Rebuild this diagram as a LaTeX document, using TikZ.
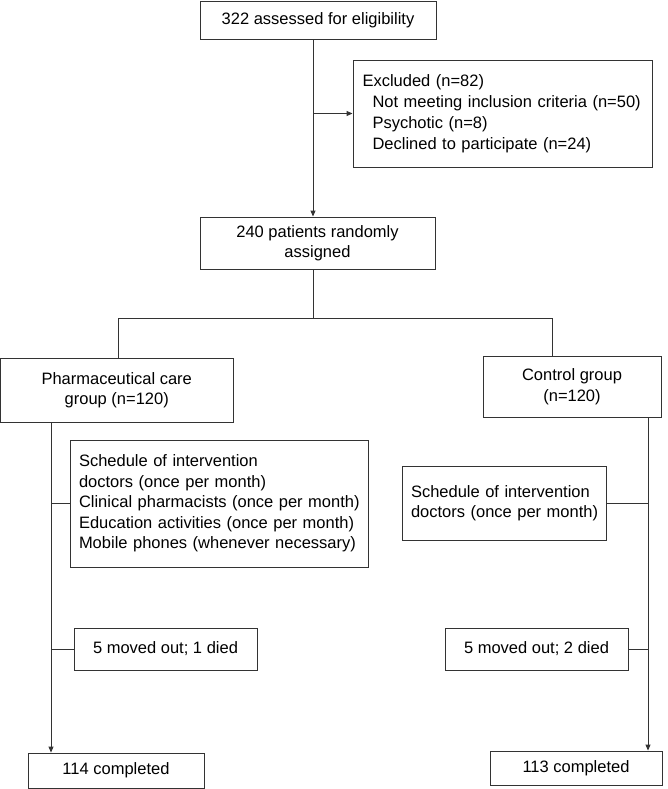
\documentclass[tikz,border=0pt]{standalone}
\usepackage{fontspec}
\setmainfont{Liberation Sans}
\usetikzlibrary{arrows.meta}
\begin{document}
\begin{tikzpicture}[x=1pt,y=-1pt,
  every node/.style={font=\fontsize{16.5}{20.5}\selectfont},
  box/.style={draw=black!80, line width=0.9pt, rectangle, inner sep=0pt, align=center},
  lbox/.style={box, align=left},
  conn/.style={draw=black!80, line width=0.9pt},
  arr/.style={conn, -{Triangle[length=6pt,width=5pt]}}]
\useasboundingbox (0,0) rectangle (667,789);
\coordinate (lx) at (51,0);
\coordinate (rx) at (648,0);
\node[box, minimum width=236pt, minimum height=38pt] (a) at (318,20) {322 assessed for eligibility};
\node[lbox, minimum width=299pt, minimum height=107pt, text width=280pt, font=\fontsize{16.5}{21}\selectfont] (excl) at (502.5,113.5)
  {\mbox{Excluded (n=82)}\\ \mbox{\hspace*{10pt}Not meeting inclusion criteria (n=50)}\\ \mbox{\hspace*{10pt}Psychotic (n=8)}\\ \mbox{\hspace*{10pt}Declined to participate (n=24)}};
\node[box, minimum width=235pt, minimum height=52pt] (b) at (317.5,243) {240 patients randomly\\assigned};
\node[box, minimum width=232.5pt, minimum height=64pt] (pharm) at (116.75,390) {Pharmaceutical care\\group (n=120)};
\node[box, minimum width=178pt, minimum height=61pt] (ctrl) at (572,386.5) {Control group\\(n=120)};
\node[lbox, minimum width=298pt, minimum height=127pt, text width=280pt] (schL) at (219,503.5)
  {\mbox{Schedule of intervention}\\\mbox{doctors (once per month)}\\\mbox{Clinical pharmacists (once per month)}\\\mbox{Education activities (once per month)}\\\mbox{Mobile phones (whenever necessary)}};
\node[lbox, minimum width=204pt, minimum height=74pt, text width=186pt] (schR) at (504,503)
  {\mbox{Schedule of intervention}\\\mbox{doctors (once per month)}};
\node[box, minimum width=183pt, minimum height=42pt] (mvL) at (165.5,649) {5 moved out; 1 died};
\node[box, minimum width=183pt, minimum height=42pt] (mvR) at (536.5,649) {5 moved out; 2 died};
\node[box, minimum width=176pt, minimum height=35pt] (c114) at (116,770.5) {114 completed};
\node[box, minimum width=172pt, minimum height=34pt] (c113) at (576,768) {113 completed};
\draw[arr] ([xshift=-5pt]a.south) -- ([xshift=-4.5pt]b.north);
\draw[arr] ([xshift=-5pt]a.south |- excl.west) -- (excl.west);
\draw[conn] ([xshift=-4.5pt]b.south) -- ++(0,49) coordinate (j);
\draw[conn] ([xshift=1.25pt]pharm.north) -- ([xshift=1.25pt]pharm.north |- j) -- ([xshift=-20pt]ctrl.north |- j) -- ([xshift=-20pt]ctrl.north);
\draw[arr] (pharm.south -| lx) -- (c114.north -| lx);
\draw[conn] (schL.west -| lx) -- (schL.west);
\draw[conn] (mvL.west -| lx) -- (mvL.west);
\draw[arr] (ctrl.south -| rx) -- (c113.north -| rx);
\draw[conn] (schR.east) -- (schR.east -| rx);
\draw[conn] (mvR.east) -- (mvR.east -| rx);
\end{tikzpicture}
\end{document}
